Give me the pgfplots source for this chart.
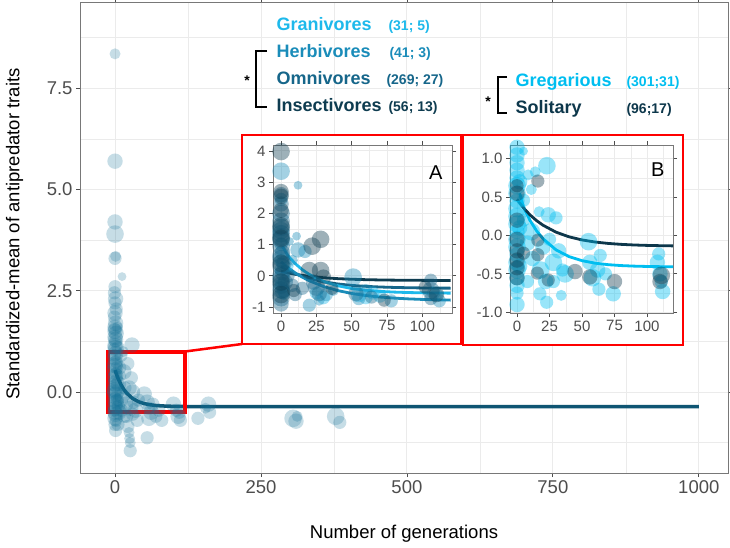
\documentclass[border=0pt]{standalone}
\usepackage{fontspec}
\setmainfont{Liberation Sans}
\usepackage{pgfplots}
\usepackage{pgfplotstable}
\pgfplotsset{compat=1.18}

\definecolor{gridc}{RGB}{235,235,235}
\definecolor{framec}{RGB}{120,120,120}
\definecolor{tickc}{RGB}{77,77,77}
\definecolor{allc}{RGB}{18,112,150}
\definecolor{fitc}{RGB}{15,85,115}
\definecolor{gran}{RGB}{30,185,235}
\definecolor{herb}{RGB}{26,140,185}
\definecolor{omni}{RGB}{22,102,138}
\definecolor{inse}{RGB}{14,60,80}
\definecolor{greg}{RGB}{0,190,240}
\definecolor{soli}{RGB}{13,55,75}

\pgfplotsset{
  bw/.style={
    scale only axis, anchor=south west,
    axis line style={framec, line width=0.8pt},
    grid=both,
    major grid style={gridc, line width=0.9pt},
    minor grid style={gridc, line width=0.45pt},
    tick align=outside, major tick length=4pt, minor tick length=0pt,
    tick style={tickc, line width=0.8pt},
    tick label style={text=tickc},
    /pgf/number format/assume math mode=true,
    /pgf/number format/1000 sep={},
  },
  bub/.style={scatter, only marks, mark=*,
    point meta={\thisrow{s}},
    scatter/use mapped color={draw opacity=0, fill=#1},
    mark options={draw opacity=0},
    visualization depends on={\thisrow{s}\as\ms},
    scatter/@pre marker code/.append style={/tikz/mark size=1.1*\ms}},
}

% all studies (main panel)
\pgfplotstableread{
x y s
0 8.35 5
0 5.7 7
0 4.2 7
0 3.9 8
0 3.3 6
1 3.35 5
12 2.85 4
0 2.6 6
-1 2.45 6
1 2.3 7
0 2.2 6
2 2.05 6
0 1.95 7
-1 1.85 6
1 1.7 7
0 1.6 7
-1 1.55 6
2 1.45 7
0 1.35 7
1 1.25 6
0 1.15 7
-1 1.05 6
1 0.95 7
0 0.85 7
2 0.75 6
0 0.65 7
-1 0.55 7
1 0.45 6
0 0.35 7
2 0.25 7
0 0.15 6
-1 0.05 7
1 -0.05 7
0 -0.15 6
2 -0.25 7
0 -0.35 7
-1 -0.45 6
1 -0.55 7
0 -0.65 7
0 -0.8 6
1 -0.95 6
0 1.5 7
1 1.3 7
0 1.1 7
-1 0.9 6
0 0.7 7
1 0.4 7
0 0.2 7
-1 0.0 7
0 -0.2 7
1 -0.4 7
0 -0.5 7
2 -0.7 6
4 1.6 5
5 1.1 6
3 0.6 6
6 0.2 7
4 -0.2 6
7 -0.5 7
5 -0.8 6
3 0.0 7
6 -0.35 6
8 0.6 6
9 -0.2 7
10 0.9 6
10 0.4 5
12 -0.1 7
11 -0.45 6
14 1.0 5
15 0.5 7
16 -0.6 6
17 0.1 6
18 -0.3 7
20 -0.6 6
22 -0.85 6
24 -1.0 5
25 -1.15 5
26 -1.25 5
26 -1.45 6
22 0.7 6
29 1.16 7
28 0.35 6
24 0.1 7
30 0.0 7
32 -0.25 6
35 -0.45 7
38 -0.7 6
30 -0.55 6
27 -0.4 7
40 -0.2 6
55 -1.13 6
50 -0.05 7
55 -0.25 7
58 -0.4 6
62 -0.5 7
65 -0.3 6
70 -0.6 6
75 -0.45 6
80 -0.7 6
58 -0.65 7
100 -0.3 7
105 -0.45 6
108 -0.6 7
110 -0.5 6
112 -0.7 6
142 -0.65 6
160 -0.3 7
162 -0.5 6
155 -0.4 5
305 -0.65 8
310 -0.72 7
312 -0.6 5
378 -0.6 8
385 -0.75 6
}\alldata

% inset A: diet
\pgfplotstableread{
x y s
0 0.5 6
0 -0.3 6
2 -0.6 5
5 0.3 5
25 -0.55 6
30 -0.7 6
55 -0.6 7
60 -0.7 6
65 -0.55 6
70 -0.65 6
110 -0.6 6
}\grandata
\pgfplotstableread{
x y s
0 3.35 8
12 2.9 4
0 2.45 6
11 1.27 4
6 1.1 4
12 0.83 7
17 0.78 6
8 0.5 5
0 1.0 6
0 0.2 6
2 -0.5 6
27 -0.78 5
20 -0.94 6
32 -0.6 6
37 -0.47 5
51 -0.04 8
55 -0.73 6
60 -0.47 6
78 -0.8 6
108 -0.55 6
112 -0.8 6
}\herbdata
\pgfplotstableread{
x y s
0 2.6 7
0 2.3 7
0 2.0 8
0 1.75 8
0 1.55 8
0 1.35 8
0 1.15 8
0 0.95 8
1 0.75 7
0 0.55 8
0 0.3 8
1 0.1 7
0 -0.1 8
0 -0.3 8
1 -0.5 7
0 -0.7 8
0 -0.9 7
0 1.45 8
0 1.25 8
0 0.65 8
0 0.0 8
0 -0.45 8
2 0.4 7
3 -0.2 7
5 0.0 6
8 -0.3 6
10 -0.6 6
15 -0.4 6
23 -0.2 7
25 -0.36 8
27 -0.57 7
53 -0.57 7
64 -0.68 6
106 -0.14 6
106 -0.47 8
106 -0.73 6
}\omnidata
\pgfplotstableread{
x y s
0 3.98 8
0 2.7 7
0 2.55 7
0 2.1 7
0 1.6 8
0 1.2 8
0 0.4 8
0 -0.2 8
0 -0.6 8
28 1.17 8
22 0.95 8
20 0.17 8
28 0.17 8
30 -0.04 7
9 -0.47 6
36 -0.4 6
73 -0.78 6
102 -0.36 6
110 -0.6 7
}\insedata

% inset B: sociality
\pgfplotstableread{
x y s
0 1.15 7
0 1.05 7
5 1.1 4
0 0.95 7
0 0.85 7
0 0.75 7
0 0.65 8
0 0.55 8
0 0.45 7
0 0.35 8
0 0.25 8
0 0.15 8
0 0.05 7
0 -0.05 8
0 -0.15 8
0 -0.25 7
0 -0.35 8
0 -0.45 8
0 -0.55 7
0 -0.65 7
0 -0.75 6
0 -0.9 7
2 0.7 7
2 0.1 7
2 -0.4 7
23 0.91 8
8.5 0.79 5
14 0.83 5
11 0.6 5
5 0.46 6
17 0.31 5
11 0.05 8
24 0.27 7
30 0.23 6
5 0.2 6
8 -0.1 7
12 -0.3 7
20 -0.15 7
25 -0.05 6
28 -0.35 8
32 -0.2 7
35 -0.45 6
18 -0.45 8
22 -0.6 7
17.6 -0.76 6
22.8 -0.87 6
34 -0.78 5
8 -0.6 6
37 -0.5 8
28 -0.6 6
55 -0.08 8
56 -0.35 7
62 -0.45 7
64 -0.26 6
63 -0.7 6
58 -0.55 8
68 -0.5 6
74 -0.76 7
109 -0.24 6
108 -0.35 7
110 -0.5 7
111 -0.6 6
112 -0.73 7
}\gregdata
\pgfplotstableread{
x y s
16 0.71 6
0 0.65 6
0 0.55 7
0 0.2 7
0 -0.05 7
0 -0.2 7
0 -0.32 7
0 -0.42 7
0 -0.55 7
16 -0.06 6
5 -0.23 6
16 -0.25 6
15.6 -0.49 6
24 -0.58 6
44.6 -0.47 7
56 -0.54 7
75 -0.6 7
111 -0.52 8
110 -0.6 7
}\solidata

\begin{document}
\begin{tikzpicture}
\useasboundingbox (0,0) rectangle (730pt,547pt);

% ---- main panel ----
\begin{axis}[bw, at={(80pt,74pt)}, width=648pt, height=471pt,
  xmin=-60, xmax=1050, ymin=-2.0, ymax=9.63,
  xtick={0,250,500,750,1000}, minor xtick={125,375,625,875},
  ytick={0,2.5,5,7.5}, minor ytick={-1.25,1.25,3.75,6.25,8.75},
  yticklabel style={/pgf/number format/fixed, /pgf/number format/fixed zerofill, /pgf/number format/precision=1},
  tick label style={font=\fontsize{18.5}{20}\selectfont},
]
\addplot[bub=allc, fill opacity=0.24] table {\alldata};
\addplot[fitc, line width=3.5pt, no markers] coordinates {
(0,0.54)(5,0.3409)(10,0.1859)(15,0.0652)(20,-0.0289)(30,-0.1592)(40,-0.2382)
(50,-0.2861)(60,-0.3152)(70,-0.3328)(80,-0.3435)(100,-0.354)(120,-0.3578)
(150,-0.3595)(200,-0.36)(1000,-0.36)};
\draw[red, line width=4pt] (axis cs:-12,-0.5) rectangle (axis cs:120,1.0);
\coordinate (rc) at (axis cs:120,1.0);
\end{axis}

\node[anchor=base, font=\fontsize{18.5}{20}\selectfont] at (404pt,9pt) {Number of generations};
\node[anchor=base, rotate=90, font=\fontsize{18.5}{20}\selectfont] at (19.5pt,313pt) {Standardized-mean of antipredator traits};

% ---- inset frames ----
\draw[red, line width=2.5pt] (rc) -- (242pt,203pt);
\draw[red, line width=2.5pt, fill=white] (242pt,203pt) rectangle (461pt,412pt);
\draw[red, line width=2.5pt, fill=white] (463pt,202pt) rectangle (683pt,412pt);

% ---- inset A ----
\begin{axis}[bw, at={(273pt,234pt)}, width=179pt, height=168pt,
  xmin=-5.7, xmax=121, ymin=-1.19, ymax=4.19,
  xtick={0,25,50,75,100}, minor xtick={12.5,37.5,62.5,87.5,112.5},
  ytick={-1,0,1,2,3,4}, minor ytick={-0.5,0.5,1.5,2.5,3.5},
  tick label style={font=\fontsize{15}{16}\selectfont},
]
\addplot[bub=gran, fill opacity=0.4] table {\grandata};
\addplot[bub=herb, fill opacity=0.4] table {\herbdata};
\addplot[bub=omni, fill opacity=0.4] table {\omnidata};
\addplot[bub=inse, fill opacity=0.4] table {\insedata};
\addplot[inse, line width=2.8pt, no markers] coordinates {
(0,0.15)(5,0.0956)(10,0.051)(15,0.0146)(20,-0.0152)(30,-0.0596)(40,-0.0894)(50,-0.1094)
(60,-0.1228)(70,-0.1318)(80,-0.1378)(90,-0.1418)(100,-0.1445)(110,-0.1463)(120,-0.1475)};
\addplot[omni, line width=2.8pt, no markers] coordinates {
(0,0.3)(5,0.1731)(10,0.0692)(15,-0.0158)(20,-0.0855)(30,-0.1892)(40,-0.2587)(50,-0.3053)
(60,-0.3365)(70,-0.3574)(80,-0.3714)(90,-0.3809)(100,-0.3872)(110,-0.3914)(120,-0.3943)};
\addplot[herb, line width=2.8pt, no markers] coordinates {
(0,0.45)(5,0.258)(10,0.0956)(15,-0.0419)(20,-0.1583)(30,-0.3401)(40,-0.4705)(50,-0.5639)
(60,-0.6309)(70,-0.6788)(80,-0.7131)(90,-0.7378)(100,-0.7554)(110,-0.768)(120,-0.7771)};
\addplot[gran, line width=2.8pt, no markers] coordinates {
(1,0.94)(5,0.635)(10,0.3922)(15,0.1986)(20,0.0444)(30,-0.1763)(40,-0.3166)(50,-0.4055)
(60,-0.4619)(70,-0.4978)(80,-0.5205)(90,-0.535)(100,-0.5441)(110,-0.55)(120,-0.5536)};
\node[anchor=north east, font=\fontsize{20}{22}\selectfont] at (rel axis cs:0.966,0.9) {A};
\end{axis}

% ---- inset B ----
\begin{axis}[bw, at={(510pt,234pt)}, width=163pt, height=168pt,
  xmin=-5.4, xmax=120, ymin=-1.01, ymax=1.18,
  xtick={0,25,50,75,100}, minor xtick={12.5,37.5,62.5,87.5,112.5},
  ytick={-1,-0.5,0,0.5,1}, minor ytick={-0.75,-0.25,0.25,0.75},
  yticklabel style={/pgf/number format/fixed, /pgf/number format/fixed zerofill, /pgf/number format/precision=1},
  tick label style={font=\fontsize{15}{16}\selectfont},
]
\addplot[bub=greg, fill opacity=0.4] table {\gregdata};
\addplot[bub=soli, fill opacity=0.4] table {\solidata};
\addplot[greg, line width=2.8pt, no markers] coordinates {
(2,0.55)(5,0.3688)(10,0.1965)(15,0.0624)(20,-0.0421)(30,-0.1869)(40,-0.2747)(50,-0.3279)
(60,-0.3602)(70,-0.3798)(80,-0.3917)(90,-0.3989)(100,-0.4033)(110,-0.4059)(120,-0.4075)};
\addplot[soli, line width=2.8pt, no markers] coordinates {
(0,0.47)(5,0.3594)(10,0.2689)(15,0.1948)(20,0.1341)(30,0.0437)(40,-0.0168)(50,-0.0575)
(60,-0.0847)(70,-0.1029)(80,-0.1151)(90,-0.1233)(100,-0.1288)(110,-0.1325)(120,-0.135)};
\node[anchor=north east, font=\fontsize{20}{22}\selectfont] at (rel axis cs:0.969,0.917) {B};
\end{axis}

% ---- group labels ----
\begin{scope}[every node/.style={anchor=base west}]
\node[text=gran, font=\bfseries\fontsize{18}{20}\selectfont] at (273pt,516pt) {Granivores};
\node[text=herb, font=\bfseries\fontsize{18}{20}\selectfont] at (273pt,489.5pt) {Herbivores};
\node[text=omni, font=\bfseries\fontsize{18}{20}\selectfont] at (273pt,462.5pt) {Omnivores};
\node[text=inse, font=\bfseries\fontsize{18}{20}\selectfont] at (273pt,435pt) {Insectivores};
\node[text=gran, font=\bfseries\fontsize{14}{16}\selectfont] at (385pt,516pt) {(31; 5)};
\node[text=herb, font=\bfseries\fontsize{14}{16}\selectfont] at (386pt,489.5pt) {(41; 3)};
\node[text=omni, font=\bfseries\fontsize{14}{16}\selectfont] at (383pt,462.5pt) {(269; 27)};
\node[text=inse, font=\bfseries\fontsize{14}{16}\selectfont] at (385pt,435pt) {(56; 13)};
\node[text=greg, font=\bfseries\fontsize{18}{20}\selectfont] at (512pt,460pt) {Gregarious};
\node[text=soli, font=\bfseries\fontsize{18}{20}\selectfont] at (512pt,433pt) {Solitary};
\node[text=greg, font=\bfseries\fontsize{14}{16}\selectfont] at (623pt,460pt) {(301;31)};
\node[text=soli, font=\bfseries\fontsize{14}{16}\selectfont] at (623pt,433pt) {(96;17)};
\end{scope}
\draw[line width=1.8pt] (267pt,496pt) -- (256pt,496pt) -- (256pt,440pt) -- (267pt,440pt);
\draw[line width=1.8pt] (507pt,470pt) -- (498pt,470pt) -- (498pt,434pt) -- (507pt,434pt);
\node[font=\bfseries\fontsize{14}{16}\selectfont] at (247pt,466pt) {*};
\node[font=\bfseries\fontsize{14}{16}\selectfont] at (488pt,445pt) {*};
\end{tikzpicture}
\end{document}
